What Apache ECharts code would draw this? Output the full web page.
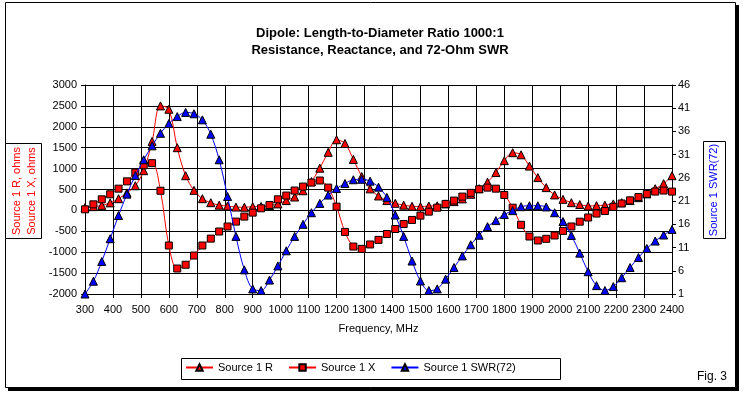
<!DOCTYPE html>
<html>
<head>
<meta charset="utf-8">
<script src="https://cdn.jsdelivr.net/npm/echarts@6/dist/echarts.min.js"></script>
<style>
  html, body { margin: 0; padding: 0; background: #fff; }
  #main { width: 744px; height: 396px; }
</style>
</head>
<body>
<div id="main"></div>
<script>
// frequency, MHz
var freq = [300, 330, 360, 390, 420, 450, 480, 510, 540, 570,
            600, 630, 660, 690, 720, 750, 780, 810, 840, 870,
            900, 930, 960, 990, 1020, 1050, 1080, 1110, 1140, 1170,
            1200, 1230, 1260, 1290, 1320, 1350, 1380, 1410, 1440, 1470,
            1500, 1530, 1560, 1590, 1620, 1650, 1680, 1710, 1740, 1770,
            1800, 1830, 1860, 1890, 1920, 1950, 1980, 2010, 2040, 2070,
            2100, 2130, 2160, 2190, 2220, 2250, 2280, 2310, 2340, 2370,
            2400];

// Source 1 R, ohms
var resistance = [70, 90, 120, 180, 280, 420, 590, 950, 1650, 2500,
                  2420, 1500, 830, 480, 280, 185, 125, 105, 80, 75,
                  90, 95, 115, 155, 235, 320, 470, 690, 1010, 1390,
                  1690, 1600, 1220, 810, 515, 345, 235, 170, 125, 100,
                  90, 105, 110, 155, 210, 275, 385, 520, 675, 905,
                  1190, 1380, 1330, 1060, 785, 545, 370, 265, 185, 140,
                  105, 115, 125, 155, 185, 235, 305, 395, 520, 640,
                  830];

// Source 1 X, ohms
var reactance = [25, 145, 265, 385, 520, 695, 905, 1080, 1130, 470,
                 -840, -1390, -1300, -1080, -840, -675, -505, -385, -268, -148,
                 -53, 50, 130, 265, 355, 475, 570, 665, 715, 545,
                 90, -515, -865, -920, -815, -705, -565, -445, -325, -228,
                 -125, -30, 65, 155, 235, 330, 420, 505, 545, 520,
                 370, 65, -345, -625, -720, -680, -600, -490, -385, -270,
                 -170, -75, -15, 85, 165, 240, 320, 395, 450, 475,
                 450];

// Source 1 SWR(72)
var swr = [1.0, 3.75, 8.0, 12.9, 17.9, 22.5, 26.5, 29.9, 32.9, 35.6,
           37.7, 39.2, 40.1, 39.8, 38.5, 35.4, 29.9, 22.0, 13.4, 6.2,
           2.1, 1.75, 4.0, 7.05, 10.3, 13.4, 16.0, 18.5, 20.5, 22.3,
           23.7, 24.8, 25.6, 25.7, 25.3, 24.0, 21.8, 18.0, 13.4, 8.1,
           3.8, 1.75, 2.1, 4.2, 6.7, 9.2, 11.6, 13.65, 15.5, 16.8,
           18.1, 18.95, 19.8, 20.0, 20.0, 19.75, 18.5, 16.6, 13.6, 9.8,
           5.8, 2.8, 1.75, 2.6, 4.5, 6.7, 8.85, 10.8, 12.4, 13.7,
           14.9];

// right axis tick labels
var swrTicks = [1, 6, 11, 16, 21, 26, 31, 36, 41, 46];

var FONT = '"Liberation Sans", Arial, sans-serif';

function pairs(ys) {
    return freq.map(function (f, i) { return [f, ys[i]]; });
}

function plain(v) {
    return String(v);
}

var myChart = echarts.init(document.getElementById('main'), null, { renderer: 'canvas' });

var option = {
    backgroundColor: '#fff',
    animation: false,
    textStyle: { fontFamily: FONT },
    grid: {
        left: 85,
        right: 72,
        top: 85,
        bottom: 102,
        containLabel: false,
        outerBoundsMode: 'none'
    },
    legend: {
        left: 185,
        top: 362,
        itemGap: 15,
        itemWidth: 27,
        itemHeight: 8,
        padding: 0,
        textStyle: { color: '#000', fontSize: 11, fontFamily: FONT },
        data: ['Source 1 R', 'Source 1 X', 'Source 1 SWR(72)']
    },
    xAxis: {
        type: 'value',
        min: 300,
        max: 2400,
        interval: 100,
        name: 'Frequency, MHz',
        nameLocation: 'middle',
        nameGap: 29,
        nameTextStyle: { color: '#000', fontSize: 11, fontFamily: FONT },
        axisLine: { show: true, onZero: false, lineStyle: { color: '#000', width: 1 } },
        axisTick: { show: true, inside: false, length: 4, lineStyle: { color: '#000' } },
        axisLabel: { color: '#000', fontSize: 11, margin: 10, fontFamily: FONT, formatter: plain },
        splitLine: { show: true, lineStyle: { color: '#000', width: 1 } }
    },
    yAxis: [
        {
            type: 'value',
            min: -2000,
            max: 3000,
            interval: 500,
            axisLine: { show: true, onZero: false, lineStyle: { color: '#000', width: 1 } },
            axisTick: { show: true, length: 4, lineStyle: { color: '#000' } },
            axisLabel: { color: '#000', fontSize: 11, margin: 8, fontFamily: FONT, formatter: plain },
            splitLine: { show: true, lineStyle: { color: '#000', width: 1 } }
        },
        {
            type: 'value',
            position: 'right',
            min: 1,
            max: 46,
            axisLine: { show: true, onZero: false, lineStyle: { color: '#000', width: 1 } },
            axisTick: { show: true, length: 4, customValues: swrTicks, lineStyle: { color: '#000' } },
            axisLabel: { color: '#000', fontSize: 11, margin: 6, customValues: swrTicks, fontFamily: FONT, formatter: plain },
            splitLine: { show: false }
        }
    ],
    series: [
        {
            name: 'Source 1 R',
            type: 'line',
            smooth: 0.35,
            data: pairs(resistance),
            symbol: 'triangle',
            symbolSize: 8,
            lineStyle: { color: '#ff0000', width: 1 },
            itemStyle: { color: '#ff0000', borderColor: '#000', borderWidth: 1 },
            z: 3
        },
        {
            name: 'Source 1 X',
            type: 'line',
            smooth: 0.35,
            data: pairs(reactance),
            symbol: 'rect',
            symbolSize: 7,
            lineStyle: { color: '#ff0000', width: 1 },
            itemStyle: { color: '#ff0000', borderColor: '#000', borderWidth: 1 },
            z: 4
        },
        {
            name: 'Source 1 SWR(72)',
            type: 'line',
            yAxisIndex: 1,
            smooth: 0.35,
            data: pairs(swr),
            symbol: 'triangle',
            symbolSize: 8,
            lineStyle: { color: '#0000ff', width: 1 },
            itemStyle: { color: '#0000ff', borderColor: '#000', borderWidth: 1 },
            z: 5
        }
    ],
    graphic: [
        // chart frame with shadow
        { type: 'rect', z: -20, silent: true, shape: { x: 8, y: 5, width: 731, height: 386 }, style: { fill: '#000' } },
        { type: 'rect', z: -19, silent: true, shape: { x: 5.5, y: 2.5, width: 730, height: 385 }, style: { fill: '#fff', stroke: '#000', lineWidth: 1 } },
        // title
        { type: 'text', x: 380, y: 33, style: { text: 'Dipole: Length-to-Diameter Ratio 1000:1', font: 'bold 13px ' + FONT, fill: '#000', textAlign: 'center', textVerticalAlign: 'middle' } },
        { type: 'text', x: 380, y: 50, style: { text: 'Resistance, Reactance, and 72-Ohm SWR', font: 'bold 13px ' + FONT, fill: '#000', textAlign: 'center', textVerticalAlign: 'middle' } },
        // left axis title box
        { type: 'rect', silent: true, shape: { x: 5.5, y: 143.5, width: 36, height: 95 }, style: { fill: '#fff', stroke: '#000', lineWidth: 1 } },
        { type: 'text', x: 17, y: 191, rotation: Math.PI / 2, style: { text: 'Source 1 R, ohms', font: '11px ' + FONT, fill: '#ff0000', textAlign: 'center', textVerticalAlign: 'middle' } },
        { type: 'text', x: 32, y: 191, rotation: Math.PI / 2, style: { text: 'Source 1 X, ohms', font: '11px ' + FONT, fill: '#ff0000', textAlign: 'center', textVerticalAlign: 'middle' } },
        // right axis title box
        { type: 'rect', silent: true, shape: { x: 703.5, y: 141.5, width: 22, height: 97 }, style: { fill: '#fff', stroke: '#000', lineWidth: 1 } },
        { type: 'text', x: 714, y: 190, rotation: Math.PI / 2, style: { text: 'Source 1 SWR(72)', font: '11px ' + FONT, fill: '#0000ff', textAlign: 'center', textVerticalAlign: 'middle' } },
        // legend box
        { type: 'rect', silent: true, z: -1, shape: { x: 181.5, y: 358.5, width: 379, height: 21 }, style: { fill: '#fff', stroke: '#000', lineWidth: 1 } },
        // figure number
        { type: 'text', x: 697, y: 377, style: { text: 'Fig. 3', font: '12px ' + FONT, fill: '#000', textAlign: 'left', textVerticalAlign: 'middle' } }
    ]
};

myChart.setOption(option);
window.addEventListener('resize', function () {
    myChart.resize();
});
</script>
</body>
</html>
